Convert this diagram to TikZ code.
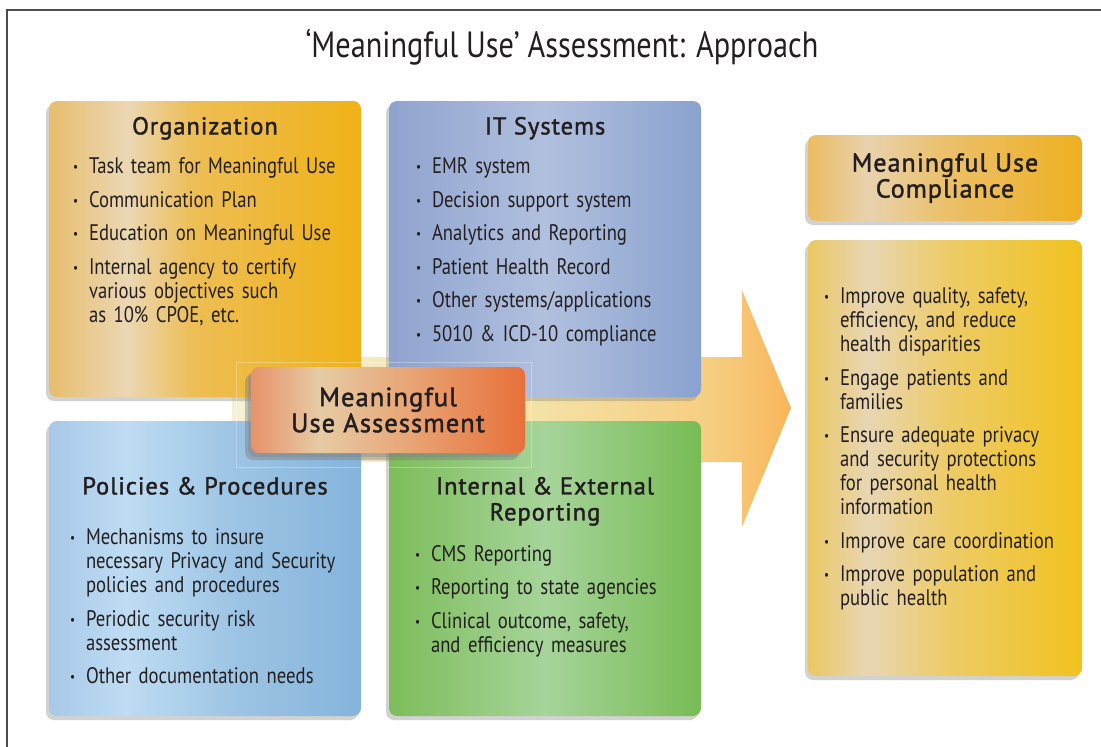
\documentclass[tikz,border=0pt]{standalone}
\usepackage{fontspec}
\setmainfont[FakeStretch=0.83]{PT Sans}
\newfontfamily\headfont[LetterSpace=4,FakeBold=1.6]{PT Sans}
\usetikzlibrary{positioning,shadows}

% box colours, left -> light band -> right
\definecolor{orgA}{HTML}{E8BD6C}\definecolor{orgB}{HTML}{EBD7B4}
\definecolor{orgC}{HTML}{EDBE55}\definecolor{orgD}{HTML}{F0B216}
\definecolor{itA}{HTML}{8FA3CF}\definecolor{itB}{HTML}{B1C0DE}\definecolor{itC}{HTML}{8AA2CF}
\definecolor{polA}{HTML}{A8C8E8}\definecolor{polB}{HTML}{BEDCF3}
\definecolor{polC}{HTML}{9CC4E4}\definecolor{polD}{HTML}{85B4DB}
\definecolor{grA}{HTML}{7DBD5A}\definecolor{grB}{HTML}{A6D49A}\definecolor{grC}{HTML}{78BC55}
\definecolor{ctrA}{HTML}{E8916A}\definecolor{ctrB}{HTML}{E6CBA4}
\definecolor{ctrC}{HTML}{E8A272}\definecolor{ctrD}{HTML}{E8703A}
\definecolor{hdA}{HTML}{EBBC62}\definecolor{hdB}{HTML}{E8D2AE}
\definecolor{hdC}{HTML}{EBC06A}\definecolor{hdD}{HTML}{EEB020}
\definecolor{lsA}{HTML}{EBC862}\definecolor{lsB}{HTML}{E8D6B4}
\definecolor{lsC}{HTML}{EDCC6A}\definecolor{lsD}{HTML}{F1C21E}
\definecolor{arA}{HTML}{F6F1D6}\definecolor{arB}{HTML}{F4E2A6}
\definecolor{arC}{HTML}{F6CE80}\definecolor{arD}{HTML}{F9B55A}
\definecolor{ink}{HTML}{231F20}
\definecolor{frame}{HTML}{4D4D4D}

% horizontal shadings (path spans 25bp..75bp)
\pgfdeclarehorizontalshading{orgshade}{100bp}{color(0bp)=(orgA); color(25bp)=(orgA);
  color(37.5bp)=(orgB); color(48bp)=(orgC); color(75bp)=(orgD); color(100bp)=(orgD)}
\pgfdeclarehorizontalshading{itshade}{100bp}{color(0bp)=(itA); color(25bp)=(itA);
  color(50bp)=(itB); color(75bp)=(itC); color(100bp)=(itC)}
\pgfdeclarehorizontalshading{polshade}{100bp}{color(0bp)=(polA); color(25bp)=(polA);
  color(37.5bp)=(polB); color(55bp)=(polC); color(75bp)=(polD); color(100bp)=(polD)}
\pgfdeclarehorizontalshading{grshade}{100bp}{color(0bp)=(grA); color(25bp)=(grA);
  color(50bp)=(grB); color(75bp)=(grC); color(100bp)=(grC)}
\pgfdeclarehorizontalshading{ctrshade}{100bp}{color(0bp)=(ctrA); color(25bp)=(ctrA);
  color(37.5bp)=(ctrB); color(55bp)=(ctrC); color(75bp)=(ctrD); color(100bp)=(ctrD)}
\pgfdeclarehorizontalshading{hdshade}{100bp}{color(0bp)=(hdA); color(25bp)=(hdA);
  color(36bp)=(hdB); color(50bp)=(hdC); color(75bp)=(hdD); color(100bp)=(hdD)}
\pgfdeclarehorizontalshading{lsshade}{100bp}{color(0bp)=(lsA); color(25bp)=(lsA);
  color(36bp)=(lsB); color(50bp)=(lsC); color(75bp)=(lsD); color(100bp)=(lsD)}
\pgfdeclarehorizontalshading{arshade}{100bp}{color(0bp)=(arA); color(25bp)=(arA);
  color(52bp)=(arB); color(68bp)=(arC); color(75bp)=(arD); color(100bp)=(arD)}

% bullet with hanging indent, lines broken with \newline
\newcommand{\bitem}[1]{\hangindent=16pt\hangafter=1\noindent
  \makebox[16pt][l]{\raisebox{2pt}{\scalebox{.6}{\textbullet}}}#1\par}

\begin{document}
\begin{tikzpicture}[x=1pt,y=-1pt,
	card/.style={shade, rounded corners=8pt, inner sep=0pt,
		drop shadow={shadow xshift=-3pt, shadow yshift=-4pt, opacity=.35}},
	head/.style={inner sep=0pt, text=ink, align=center,
		font=\headfont\fontsize{#1}{26}\selectfont},
	head/.default=24.5,
	lst/.style={inner sep=0pt, anchor=north west, text=ink, text width=#1, align=left,
		font=\fontsize{22.5}{24}\selectfont,
		execute at begin node=\setlength{\parskip}{9.5pt}},
	]

	\useasboundingbox (0,0) rectangle (1101,747);
	\fill[white] (0,0) rectangle (1101,747);
	\draw[frame, line width=1.5pt] (7,747) -- (7,10) -- (1101,10);

	\node[text=ink, font=\fontsize{36.5}{42}\selectfont] (title) at (562,47)
		{`Meaningful Use' Assessment: Approach};

	% big arrow behind the four boxes
	\shade[shading=arshade] (232,357) -- (742,357) -- (742,290) -- (791,408)
		-- (742,527) -- (742,462) -- (232,462) -- cycle;

	% four areas
	\node[card, shading=orgshade, minimum width=312pt, minimum height=296pt] (org) at (205,249) {};
	\node[card, shading=itshade, minimum width=312pt, minimum height=296pt] (its) at (545,249) {};
	\node[card, shading=polshade, minimum width=312pt, minimum height=295pt] (pol) at (205,568.5) {};
	\node[card, shading=grshade, minimum width=312pt, minimum height=295pt] (rep) at (545,568.5) {};

	\node[head, below=16pt of org.north] (orghead) {Organization};
	\node[lst=285pt, below right=57pt and 24pt of org.north west] (orglist) {%
		\bitem{Task team for Meaningful Use}
		\bitem{Communication Plan}
		\bitem{Education on Meaningful Use}
		\bitem{Internal agency to certify\newline various objectives such\newline as 10\% CPOE, etc.}};

	\node[head, below=16pt of its.north] (itshead) {IT Systems};
	\node[lst=285pt, below right=57pt and 27pt of its.north west] (itslist) {%
		\bitem{EMR system}
		\bitem{Decision support system}
		\bitem{Analytics and Reporting}
		\bitem{Patient Health Record}
		\bitem{Other systems/applications}
		\bitem{5010 \& ICD-10 compliance}};

	\node[head, below=56pt of pol.north] (polhead) {Policies \& Procedures};
	\node[lst=290pt, below right=108pt and 21pt of pol.north west] (pollist) {%
		\bitem{Mechanisms to insure\newline necessary Privacy and Security\newline policies and procedures}
		\bitem{Periodic security risk\newline assessment}
		\bitem{Other documentation needs}};

	\node[head, below=56pt of rep.north] (rephead) {Internal \& External\\Reporting};
	\node[lst=285pt, below right=124pt and 26pt of rep.north west] (replist) {%
		\bitem{CMS Reporting}
		\bitem{Reporting to state agencies}
		\bitem{Clinical outcome, safety,\newline and efficiency measures}};

	% centre
	\draw[white, opacity=.3] (236,362) rectangle (531,467);
	\node[card, shading=ctrshade, minimum width=274pt, minimum height=86pt,
		drop shadow={shadow xshift=-6pt, shadow yshift=-7pt, opacity=.45}] (mua) at (388,410) {};
	\node[head=26.5] at (mua) {Meaningful\\Use Assessment};

	% result side
	\node[card, shading=hdshade, minimum width=274pt, minimum height=86pt] (comp) at (945,178) {};
	\node[head=26] at (comp) {Meaningful Use\\Compliance};
	\node[card, shading=lsshade, minimum width=274pt, minimum height=436pt] (goals) at (945,458) {};
	\node[lst=255pt, below right=48pt and 16pt of goals.north west] (goallist) {%
		\bitem{Improve quality, safety,\newline efficiency, and reduce\newline health disparities}
		\bitem{Engage patients and\newline families}
		\bitem{Ensure adequate privacy\newline and security protections\newline for personal health\newline information}
		\bitem{Improve care coordination}
		\bitem{Improve population and\newline public health}};

\end{tikzpicture}
\end{document}
